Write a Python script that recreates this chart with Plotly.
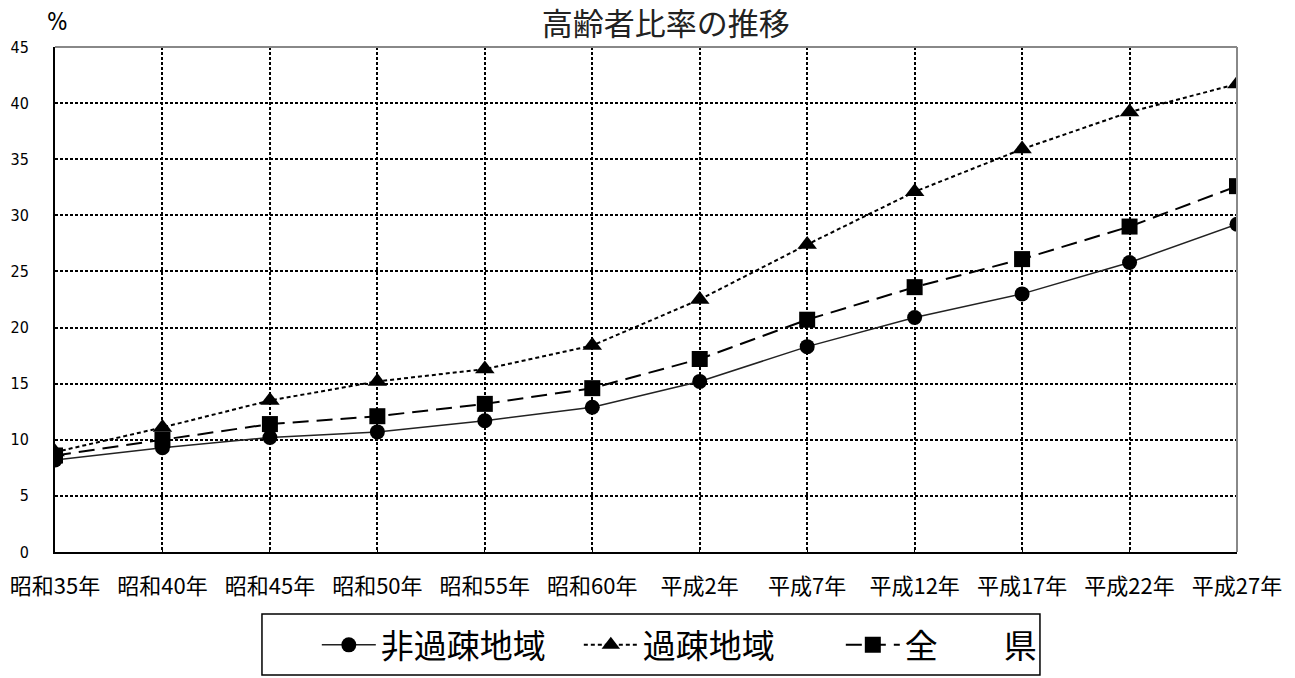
import plotly.graph_objects as go

categories = ["昭和35年", "昭和40年", "昭和45年", "昭和50年", "昭和55年", "昭和60年",
              "平成2年", "平成7年", "平成12年", "平成17年", "平成22年", "平成27年"]
hikaso = [8.2, 9.3, 10.2, 10.7, 11.7, 12.9, 15.2, 18.3, 20.9, 23.0, 25.8, 29.2]
kaso = [8.9, 11.1, 13.5, 15.2, 16.3, 18.4, 22.5, 27.4, 32.1, 35.9, 39.2, 41.7]
zenken = [8.6, 10.0, 11.4, 12.1, 13.2, 14.6, 17.2, 20.7, 23.6, 26.1, 29.0, 32.6]
yticks = [0, 5, 10, 15, 20, 25, 30, 35, 40, 45]

FONT = "Noto Sans CJK JP"

fig = go.Figure()
fig.add_trace(go.Scatter(
    x=categories, y=hikaso, name="非過疎地域", mode="lines+markers",
    line=dict(color="#222222", width=1.5),
    marker=dict(symbol="circle", size=15, color="black")))
fig.add_trace(go.Scatter(
    x=categories, y=kaso, name="過疎地域", mode="lines+markers",
    line=dict(color="black", width=2, dash="4px,3px"),
    marker=dict(symbol="triangle-up", size=17, color="black")))
fig.add_trace(go.Scatter(
    x=categories, y=zenken, name="全　　県", mode="lines+markers",
    line=dict(color="black", width=2, dash="16px,8px"),
    marker=dict(symbol="square", size=16, color="black")))

fig.update_layout(
    width=1295, height=678,
    margin=dict(l=47, r=66, t=39, b=134),
    paper_bgcolor="white", plot_bgcolor="white",
    font=dict(family=FONT, color="black"),
    title=dict(text="高齢者比率の推移", x=0.508, xanchor="center", y=0.976, yanchor="middle",
               font=dict(size=31, color="#222222")),
    showlegend=True,
    legend=dict(orientation="h", x=0.2215, xanchor="left", y=-0.184, yanchor="middle",
                borderwidth=0, font=dict(size=33), bgcolor="rgba(0,0,0,0)",
                itemwidth=54, entrywidth=193, tracegroupgap=0),
    xaxis=dict(type="category", range=[0, len(categories) - 1], automargin=False,
               showgrid=True, gridcolor="black", griddash="3px,2px", gridwidth=1.5,
               showline=True, linecolor="black", linewidth=2,
               ticks="inside", ticklen=5, tickcolor="black",
               tickfont=dict(size=22), ticklabelstandoff=14),
    yaxis=dict(range=[0, 45], tickvals=yticks, automargin=False,
               showgrid=True, gridcolor="black", griddash="3px,2px", gridwidth=1.5,
               showline=True, linecolor="black", linewidth=2, zeroline=False,
               ticks="", tickfont=dict(size=16, family="DejaVu Sans Condensed"),
               ticklabelstandoff=21),
    shapes=[
        dict(type="line", xref="paper", yref="paper", x0=0, x1=1, y0=1, y1=1,
             line=dict(color="#888888", width=2)),
        dict(type="line", xref="paper", yref="paper", x0=1, x1=1, y0=0, y1=1,
             line=dict(color="#888888", width=2)),
        dict(type="rect", xref="paper", yref="paper", x0=0.1751, x1=0.8333,
             y0=-0.2436, y1=-0.1228, line=dict(color="black", width=1.5)),
    ],
    annotations=[dict(text="%", xref="paper", yref="paper", x=0.0017, y=1.0495,
                      xanchor="center", yanchor="middle", showarrow=False,
                      font=dict(size=24, family="DejaVu Sans Condensed"))],
)

fig.write_html("out.html")
